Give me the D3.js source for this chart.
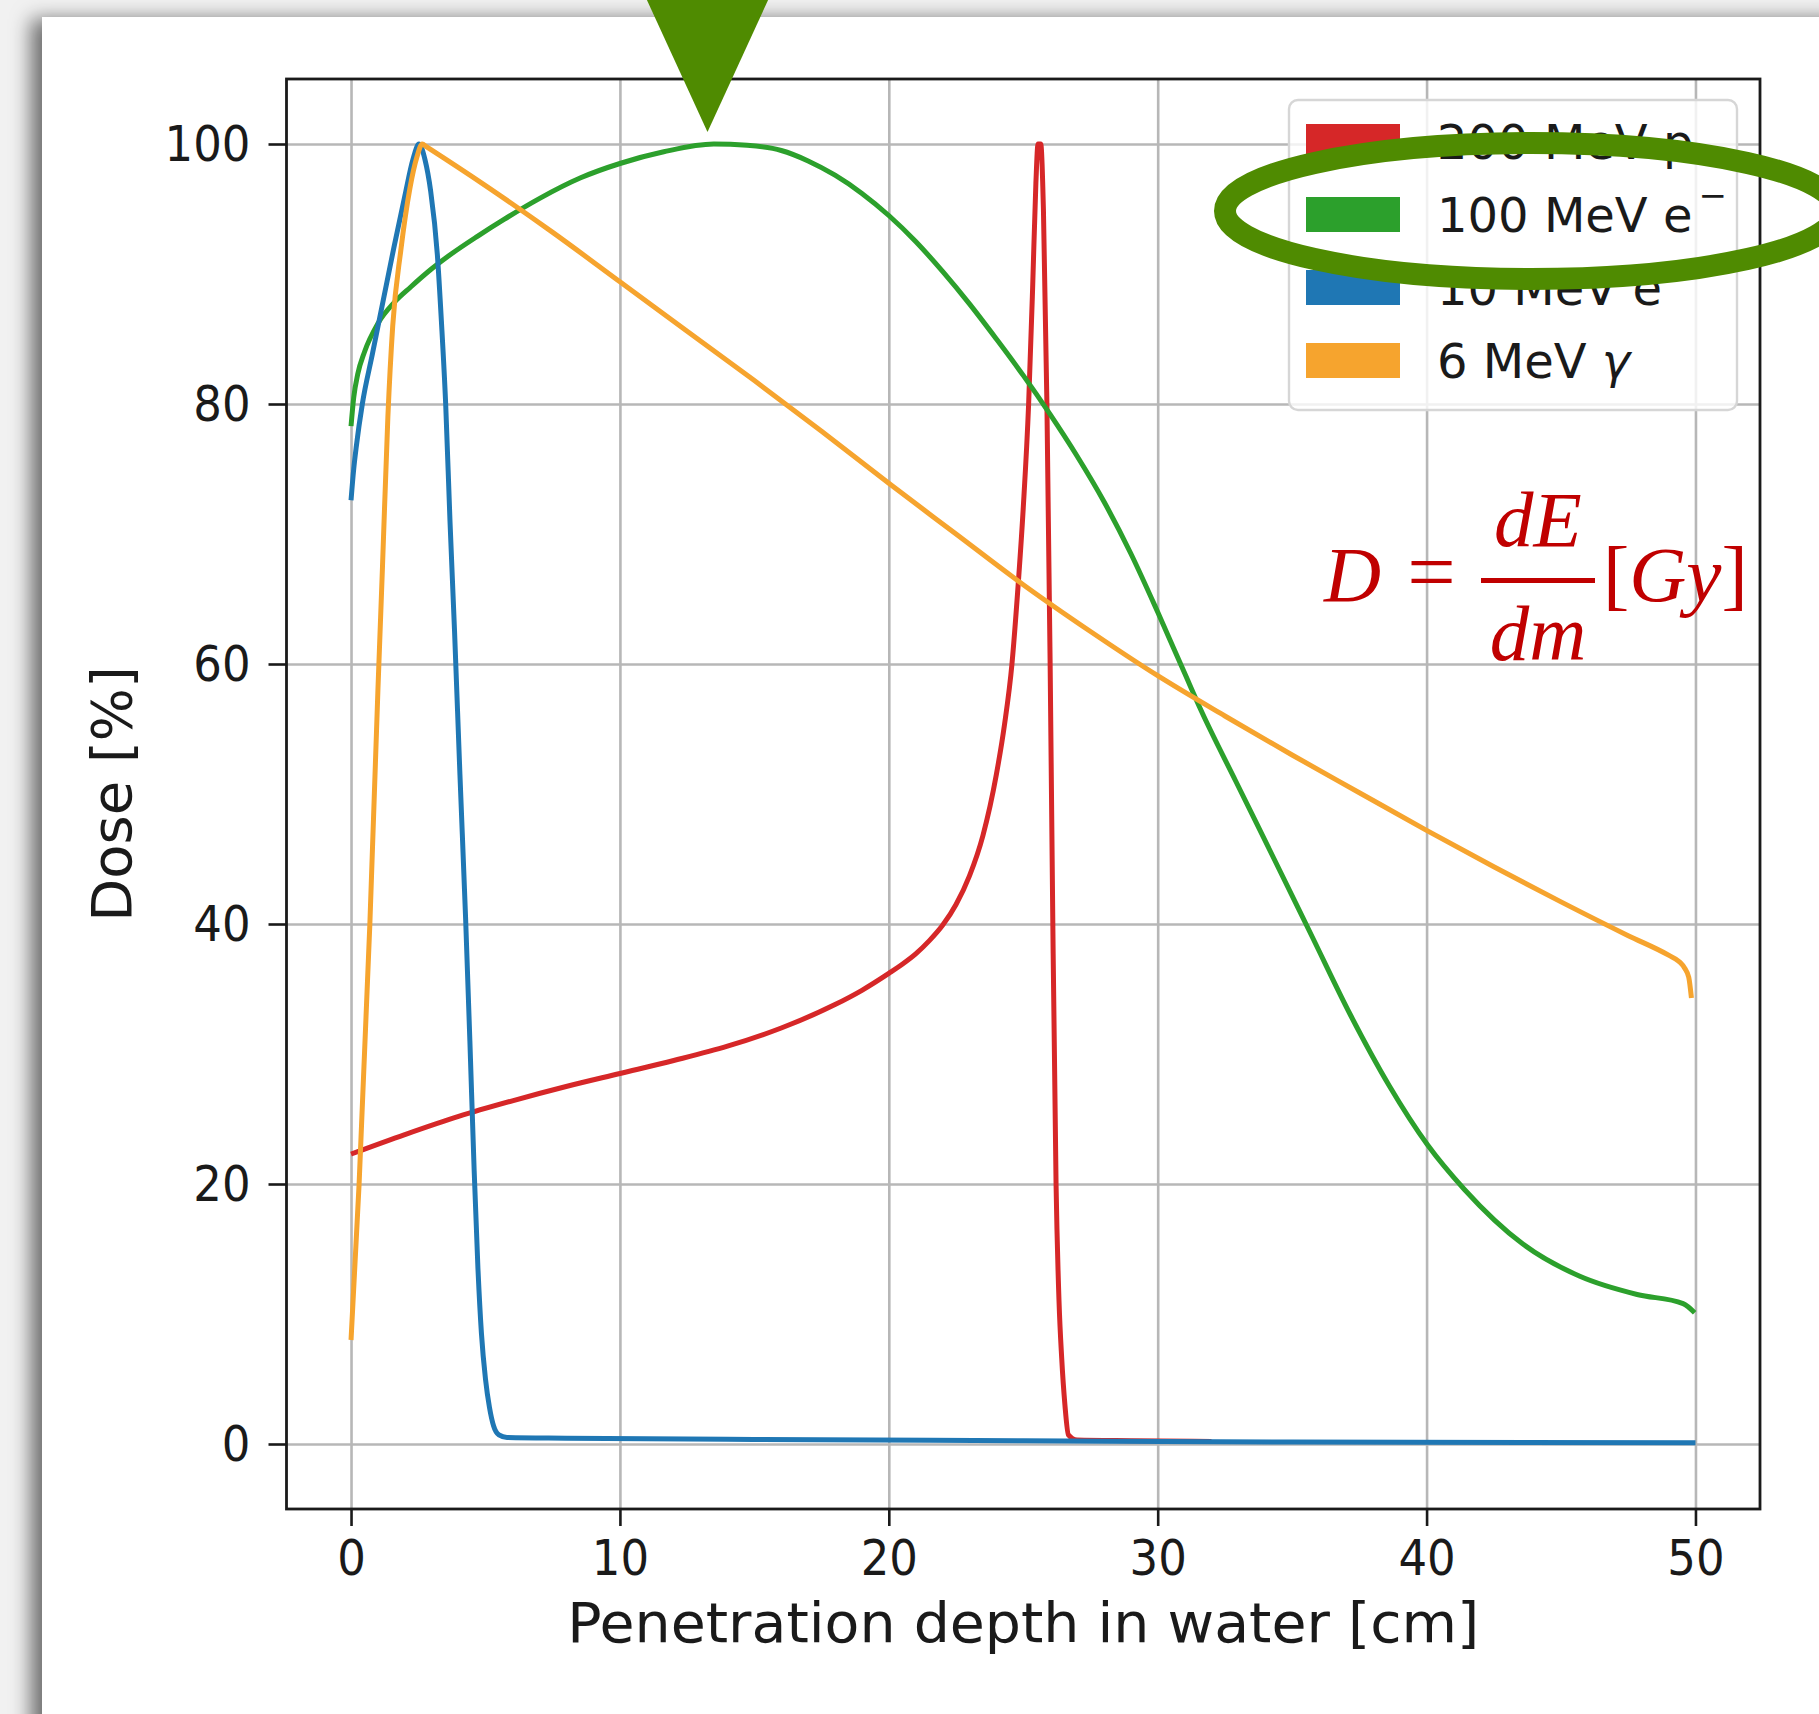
<!DOCTYPE html>
<html>
<head>
<meta charset="utf-8">
<script src="https://cdn.jsdelivr.net/npm/d3@7"></script>
<style>
  html, body { margin: 0; padding: 0; background: #f1f1f1; overflow: hidden; }
  svg { display: block; }
</style>
</head>
<body>
<svg id="chart" width="1819" height="1714"></svg>
<script>
// Depth-dose curves in water (depth in cm, dose in % of maximum)
const protonDepth = [0, 2, 4, 6, 8, 10, 12, 14, 16, 18, 19, 20, 20.5, 21, 21.5, 22, 22.5, 23, 23.5, 24, 24.3, 24.58, 24.79, 25.0, 25.2, 25.35, 25.47, 25.55, 25.65, 25.75, 25.88, 26.0, 26.1, 26.22, 26.33, 26.43, 26.55, 26.68, 27.0, 29.0, 32.0];
const protonDose  = [22.3, 23.8, 25.2, 26.4, 27.5, 28.5, 29.5, 30.6, 32.0, 33.8, 34.9, 36.2, 36.9, 37.7, 38.7, 39.9, 41.5, 43.7, 46.8, 51.5, 55.3, 60.0, 65.5, 72.0, 80.0, 89.0, 97.0, 100, 100, 95.0, 80.0, 60.0, 40.0, 20.0, 11.0, 6.6, 3.0, 0.7, 0.3, 0.25, 0.2];

const e100Depth = [0, 0.1, 0.25, 0.5, 1.0, 1.6, 2.22, 3.0, 3.7, 4.7, 5.69, 7.0, 8.54, 10, 11.63, 13.49, 14.73, 16, 17, 18, 19, 20, 21, 22, 23, 24, 25, 26, 27, 28, 29, 30, 31, 31.62, 32.9, 34.33, 35.75, 37.17, 38.6, 40.04, 41.4, 43.57, 45.7, 47.83, 49.54, 49.97];
const e100Dose  = [78.3, 80.5, 82.3, 84.0, 86.2, 87.8, 89.0, 90.4, 91.5, 92.9, 94.2, 95.8, 97.4, 98.5, 99.4, 100, 99.9, 99.5, 98.7, 97.6, 96.2, 94.5, 92.5, 90.2, 87.7, 85.0, 82.2, 79.2, 76.0, 72.5, 68.5, 64.0, 59.3, 56.4, 51.0, 45.0, 39.0, 33.0, 27.6, 23.0, 19.6, 15.4, 12.9, 11.5, 10.8, 10.1];

const e10Depth = [0, 0.1, 0.2, 0.42, 0.8, 1.2, 1.6, 2.0, 2.3, 2.53, 2.75, 2.96, 3.21, 3.36, 3.52, 3.68, 3.85, 4.05, 4.26, 4.42, 4.58, 4.72, 4.85, 5.0, 5.15, 5.3, 5.5, 5.8, 8, 15, 25, 35, 50];
const e10Dose  = [72.6, 75.0, 76.8, 80.0, 83.9, 88.0, 92.1, 96.0, 98.8, 100, 98.8, 96.4, 91.5, 86.4, 80.0, 71.0, 62.5, 51.5, 40.5, 31.0, 21.0, 13.5, 8.5, 5.0, 2.8, 1.4, 0.7, 0.5, 0.45, 0.35, 0.25, 0.15, 0.1];

const gammaDepth = [0, 0.3, 0.7, 1.0, 1.17, 1.37, 1.55, 1.85, 2.19, 2.45, 2.65, 2.8, 5, 7.5, 10, 12.5, 15, 17.5, 20, 22.5, 25, 27.5, 30, 32.5, 35, 37.5, 40, 42.5, 45, 47.5, 49.0, 49.4, 49.6, 49.75, 49.85];
const gammaDose  = [8.0, 20.0, 40.0, 58.0, 67.5, 79.0, 86.0, 91.8, 96.6, 99.0, 100, 99.8, 96.8, 93.2, 89.4, 85.6, 81.8, 77.9, 73.9, 70.0, 66.1, 62.5, 59.1, 56.0, 53.0, 50.1, 47.2, 44.4, 41.7, 39.1, 37.6, 37.1, 36.6, 35.9, 34.3];

// Legend entries (plot order)
const legendMain   = ["200 MeV p", "100 MeV e", "10 MeV e", "6 MeV "];
const legendSup    = ["", "\u2212", "\u2212", ""];
const legendGreek  = ["", "", "", "\u03b3"];
const seriesColors = ["#d62728", "#2ca02c", "#1f77b4", "#f6a42e"];

// Axis ticks
const xTicks = [0, 10, 20, 30, 40, 50];
const yTicks = [0, 20, 40, 60, 80, 100];
const xTitle = "Penetration depth in water [cm]";
const yTitle = "Dose [%]";

const svg = d3.select("#chart");

// ---------- page card with soft shadow ----------
const defs = svg.append("defs");
const shadow = defs.append("filter").attr("id", "cardShadow")
  .attr("x", "-10%").attr("y", "-10%").attr("width", "130%").attr("height", "130%");
shadow.append("feDropShadow")
  .attr("dx", -11).attr("dy", 2).attr("stdDeviation", 10)
  .attr("flood-color", "#000").attr("flood-opacity", 0.55);

svg.append("rect")
  .attr("x", 42).attr("y", 17).attr("width", 1900).attr("height", 1850)
  .attr("fill", "#ffffff").attr("filter", "url(#cardShadow)");

// ---------- plot area ----------
const plot = { left: 286.5, right: 1760, top: 79, bottom: 1509 };

const x = d3.scaleLinear().domain([-2.4, 52.4]).range([plot.left, plot.right]);
const y = d3.scaleLinear().domain([-5, 105]).range([plot.bottom, plot.top]);

const g = svg.append("g");

// grid
g.append("g")
  .attr("transform", `translate(0,${plot.bottom})`)
  .call(d3.axisBottom(x).tickValues(xTicks).tickSize(-(plot.bottom - plot.top)).tickFormat(""))
  .call(s => s.select(".domain").remove())
  .call(s => s.selectAll("line").attr("stroke", "#b7b7b7").attr("stroke-width", 2.6));
g.append("g")
  .attr("transform", `translate(${plot.left},0)`)
  .call(d3.axisLeft(y).tickValues(yTicks).tickSize(-(plot.right - plot.left)).tickFormat(""))
  .call(s => s.select(".domain").remove())
  .call(s => s.selectAll("line").attr("stroke", "#b7b7b7").attr("stroke-width", 2.6));

// curves
const series = [
  { depth: protonDepth, dose: protonDose },
  { depth: e100Depth, dose: e100Dose },
  { depth: e10Depth, dose: e10Dose },
  { depth: gammaDepth, dose: gammaDose }
];
const line = d3.line()
  .x(d => x(d[0])).y(d => y(d[1]))
  .curve(d3.curveMonotoneX);

const clip = defs.append("clipPath").attr("id", "plotClip");
clip.append("rect").attr("x", plot.left).attr("y", plot.top)
  .attr("width", plot.right - plot.left).attr("height", plot.bottom - plot.top);

const curves = g.append("g").attr("clip-path", "url(#plotClip)");
series.forEach((s, i) => {
  const pts = s.depth.map((d, k) => [d, s.dose[k]]);
  curves.append("path")
    .datum(pts)
    .attr("d", line)
    .attr("fill", "none")
    .attr("stroke", seriesColors[i])
    .attr("stroke-width", 5)
    .attr("stroke-linejoin", "round")
    .attr("stroke-linecap", "butt");
});

// axes frame
g.append("rect")
  .attr("x", plot.left).attr("y", plot.top)
  .attr("width", plot.right - plot.left).attr("height", plot.bottom - plot.top)
  .attr("fill", "none").attr("stroke", "#1a1a1a").attr("stroke-width", 2.8);

const condense = function () {
  const w = this.getComputedTextLength();
  d3.select(this).attr("textLength", w * 0.9).attr("lengthAdjust", "spacingAndGlyphs");
};

// y axis ticks + labels
const yAxis = g.append("g")
  .attr("transform", `translate(${plot.left},0)`)
  .call(d3.axisLeft(y).tickValues(yTicks).tickSize(18).tickPadding(18));
yAxis.select(".domain").remove();
yAxis.selectAll("line").attr("stroke", "#1a1a1a").attr("stroke-width", 2.6);
yAxis.selectAll("text")
  .attr("font-family", "DejaVu Sans").attr("font-size", 50).attr("fill", "#1a1a1a")
  .each(condense);

// x axis ticks + labels
const xAxis = g.append("g")
  .attr("transform", `translate(0,${plot.bottom})`)
  .call(d3.axisBottom(x).tickValues(xTicks).tickSize(17).tickPadding(13));
xAxis.select(".domain").remove();
xAxis.selectAll("line").attr("stroke", "#1a1a1a").attr("stroke-width", 2.6);
xAxis.selectAll("text")
  .attr("font-family", "DejaVu Sans").attr("font-size", 50).attr("fill", "#1a1a1a")
  .each(condense);

// axis titles
svg.append("text")
  .attr("x", (plot.left + plot.right) / 2).attr("y", 1642)
  .attr("text-anchor", "middle")
  .attr("font-family", "DejaVu Sans").attr("font-size", 55).attr("fill", "#1a1a1a")
  .attr("textLength", 912).attr("lengthAdjust", "spacingAndGlyphs")
  .text(xTitle);
svg.append("text")
  .attr("transform", `translate(131,${(plot.top + plot.bottom) / 2}) rotate(-90)`)
  .attr("text-anchor", "middle")
  .attr("font-family", "DejaVu Sans").attr("font-size", 56).attr("fill", "#1a1a1a")
  .text(yTitle);

// ---------- legend ----------
const legend = svg.append("g");
legend.append("rect")
  .attr("x", 1289).attr("y", 100).attr("width", 448).attr("height", 310)
  .attr("rx", 9).attr("ry", 9)
  .attr("fill", "#ffffff").attr("fill-opacity", 0.8)
  .attr("stroke", "#d6d6d6").attr("stroke-width", 2.4);

legendMain.forEach((label, i) => {
  const cy = 142 + i * 73;
  legend.append("rect")
    .attr("x", 1306).attr("y", cy - 18).attr("width", 94).attr("height", 35)
    .attr("fill", seriesColors[i]);
  const t = legend.append("text")
    .attr("x", 1437).attr("y", cy + 17)
    .attr("font-family", "DejaVu Sans").attr("font-size", 48).attr("fill", "#1a1a1a");
  t.append("tspan").text(label);
  if (legendSup[i]) {
    t.append("tspan").attr("dx", 6).attr("dy", -25).attr("font-size", 34).text(legendSup[i]);
  }
  if (legendGreek[i]) {
    t.append("tspan").attr("font-style", "italic").text(legendGreek[i]);
  }
});

// ---------- dose definition ----------
const formula = svg.append("g")
  .attr("fill", "#c00000")
  .attr("font-family", "Liberation Serif").attr("font-size", 79);
formula.append("text").attr("x", 1324).attr("y", 601).attr("font-style", "italic").text("D");
formula.append("text").attr("x", 1431.5).attr("y", 601).attr("text-anchor", "middle")
  .attr("font-size", 86).text("=");
formula.append("line")
  .attr("x1", 1481).attr("x2", 1595).attr("y1", 580.5).attr("y2", 580.5)
  .attr("stroke", "#c00000").attr("stroke-width", 5);
formula.append("text").attr("x", 1538).attr("y", 546).attr("text-anchor", "middle")
  .attr("font-style", "italic").text("dE");
formula.append("text").attr("x", 1538).attr("y", 660).attr("text-anchor", "middle")
  .attr("font-style", "italic").text("dm");
const unit = formula.append("text").attr("x", 1603).attr("y", 601);
unit.append("tspan").text("[");
unit.append("tspan").attr("font-style", "italic").text("Gy");
unit.append("tspan").text("]");

// ---------- highlight marks ----------
const accent = "#4f8b01";
svg.append("path")
  .attr("d", d3.line()([[646, -2], [769, -2], [707.5, 132]]) + "Z")
  .attr("fill", accent);
svg.append("ellipse")
  .attr("cx", 1531).attr("cy", 211).attr("rx", 306).attr("ry", 68)
  .attr("fill", "none").attr("stroke", accent).attr("stroke-width", 22);
</script>
</body>
</html>
